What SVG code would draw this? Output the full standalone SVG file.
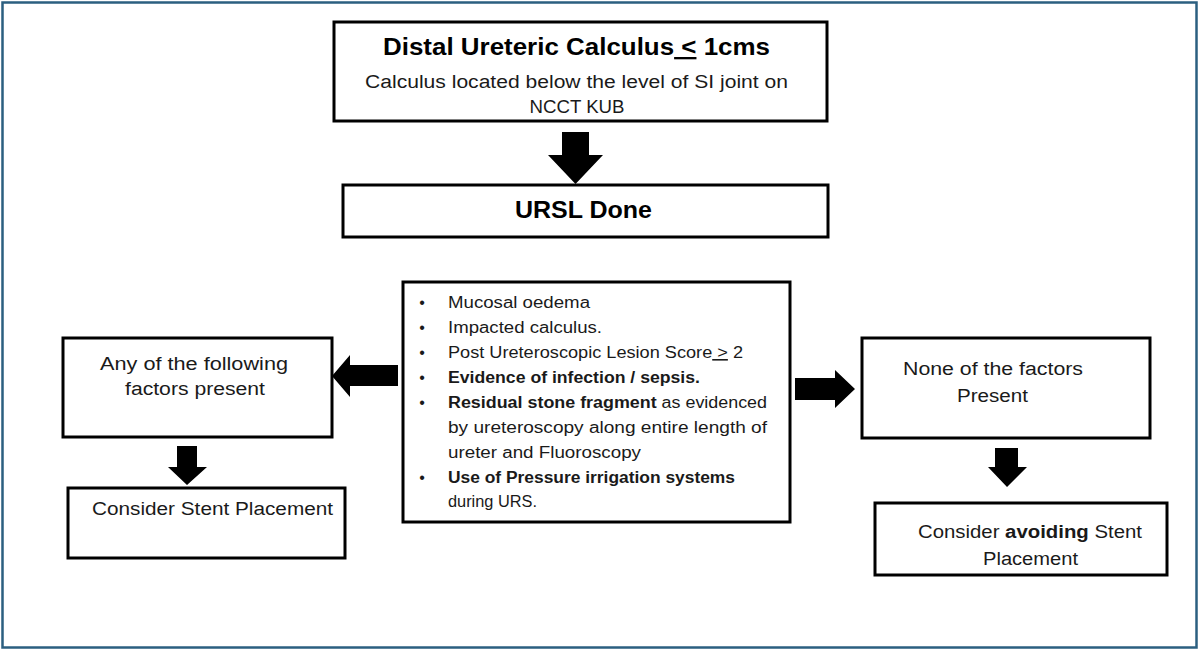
<svg xmlns="http://www.w3.org/2000/svg" width="1200" height="651" viewBox="0 0 1200 651">
<style>
.box{fill:#fff;stroke:#000;stroke-width:3}
.t{font-family:"Liberation Sans",Arial,sans-serif;fill:#1a1a1a}
.b{font-weight:bold}
.h{font-family:"Liberation Sans",Arial,sans-serif;font-weight:bold;fill:#000;font-size:23px}
.s{font-size:18px}
.m{font-size:16px}
.u{text-decoration:underline}
.arr{fill:#000}
</style>
<rect x="0" y="0" width="1200" height="651" fill="#fff"/>
<rect x="2.5" y="2.5" width="1194" height="645" fill="none" stroke="#2b5f80" stroke-width="2.5"/>

<g id="connectors">
<polygon class="arr" points="562,132 589,132 589,155 603,155 575.5,184 548,155 562,155"/>
<polygon class="arr" points="398,365 350,365 350,355 332,376 350,397 350,386 398,386"/>
<polygon class="arr" points="177,446 197,446 197,467 207,467 187,485 168,467 177,467"/>
<polygon class="arr" points="795,378 835,378 835,370 855,389 835,408 835,400 795,400"/>
<polygon class="arr" points="995,448 1018,448 1018,467 1027,467 1007,487 988,467 995,467"/>
</g>

<g id="calculus">
<rect class="box" x="334" y="22" width="493" height="99"/>
<text class="h" x="576.5" y="55" text-anchor="middle" textLength="387" lengthAdjust="spacingAndGlyphs">Distal Ureteric Calculus<tspan class="u"> &lt;</tspan> 1cms</text>
<text class="t s" x="576.5" y="88" text-anchor="middle" textLength="423" lengthAdjust="spacingAndGlyphs">Calculus located below the level of SI joint on</text>
<text class="t s" x="577" y="113" text-anchor="middle" textLength="95" lengthAdjust="spacingAndGlyphs">NCCT KUB</text>
</g>

<g id="ursl">
<rect class="box" x="343" y="185" width="485" height="52"/>
<text class="h" x="583.5" y="218" text-anchor="middle" textLength="137" lengthAdjust="spacingAndGlyphs">URSL Done</text>
</g>

<g id="factors">
<rect class="box" x="403" y="282" width="387" height="240"/>
<g class="t m">
<text x="422" y="308" text-anchor="middle">•</text>
<text x="422" y="333" text-anchor="middle">•</text>
<text x="422" y="358" text-anchor="middle">•</text>
<text x="422" y="383" text-anchor="middle">•</text>
<text x="422" y="408" text-anchor="middle">•</text>
<text x="422" y="483" text-anchor="middle">•</text>
<text x="448" y="308" textLength="142" lengthAdjust="spacingAndGlyphs">Mucosal oedema</text>
<text x="448" y="333" textLength="154" lengthAdjust="spacingAndGlyphs">Impacted calculus.</text>
<text x="448" y="358" textLength="295" lengthAdjust="spacingAndGlyphs">Post Ureteroscopic Lesion Score<tspan class="u"> &gt;</tspan> 2</text>
<text class="b" x="448" y="383" textLength="252" lengthAdjust="spacingAndGlyphs">Evidence of infection / sepsis.</text>
<text x="448" y="408" textLength="319" lengthAdjust="spacingAndGlyphs"><tspan class="b">Residual stone fragment</tspan> as evidenced</text>
<text x="448" y="433" textLength="319" lengthAdjust="spacingAndGlyphs">by ureteroscopy along entire length of</text>
<text x="448" y="458" textLength="193" lengthAdjust="spacingAndGlyphs">ureter and Fluoroscopy</text>
<text class="b" x="448" y="483" textLength="287" lengthAdjust="spacingAndGlyphs">Use of Pressure irrigation systems</text>
<text x="448" y="507" textLength="89" lengthAdjust="spacingAndGlyphs">during URS.</text>
</g>
</g>

<g id="any-present">
<rect class="box" x="63" y="338" width="269" height="99"/>
<text class="t s" x="194" y="370" text-anchor="middle" textLength="188" lengthAdjust="spacingAndGlyphs">Any of the following</text>
<text class="t s" x="195" y="395" text-anchor="middle" textLength="140" lengthAdjust="spacingAndGlyphs">factors present</text>
</g>

<g id="stent">
<rect class="box" x="68" y="488" width="277" height="70"/>
<text class="t s" x="92" y="515" textLength="241" lengthAdjust="spacingAndGlyphs">Consider Stent Placement</text>
</g>

<g id="none-present">
<rect class="box" x="862" y="338" width="288" height="100"/>
<text class="t s" x="903" y="375" textLength="180" lengthAdjust="spacingAndGlyphs">None of the factors</text>
<text class="t s" x="957" y="402" textLength="71" lengthAdjust="spacingAndGlyphs">Present</text>
</g>

<g id="avoid-stent">
<rect class="box" x="875" y="503" width="292" height="72"/>
<text class="t s" x="918" y="538" textLength="224" lengthAdjust="spacingAndGlyphs">Consider <tspan class="b">avoiding</tspan> Stent</text>
<text class="t s" x="983" y="565" textLength="95" lengthAdjust="spacingAndGlyphs">Placement</text>
</g>
</svg>
